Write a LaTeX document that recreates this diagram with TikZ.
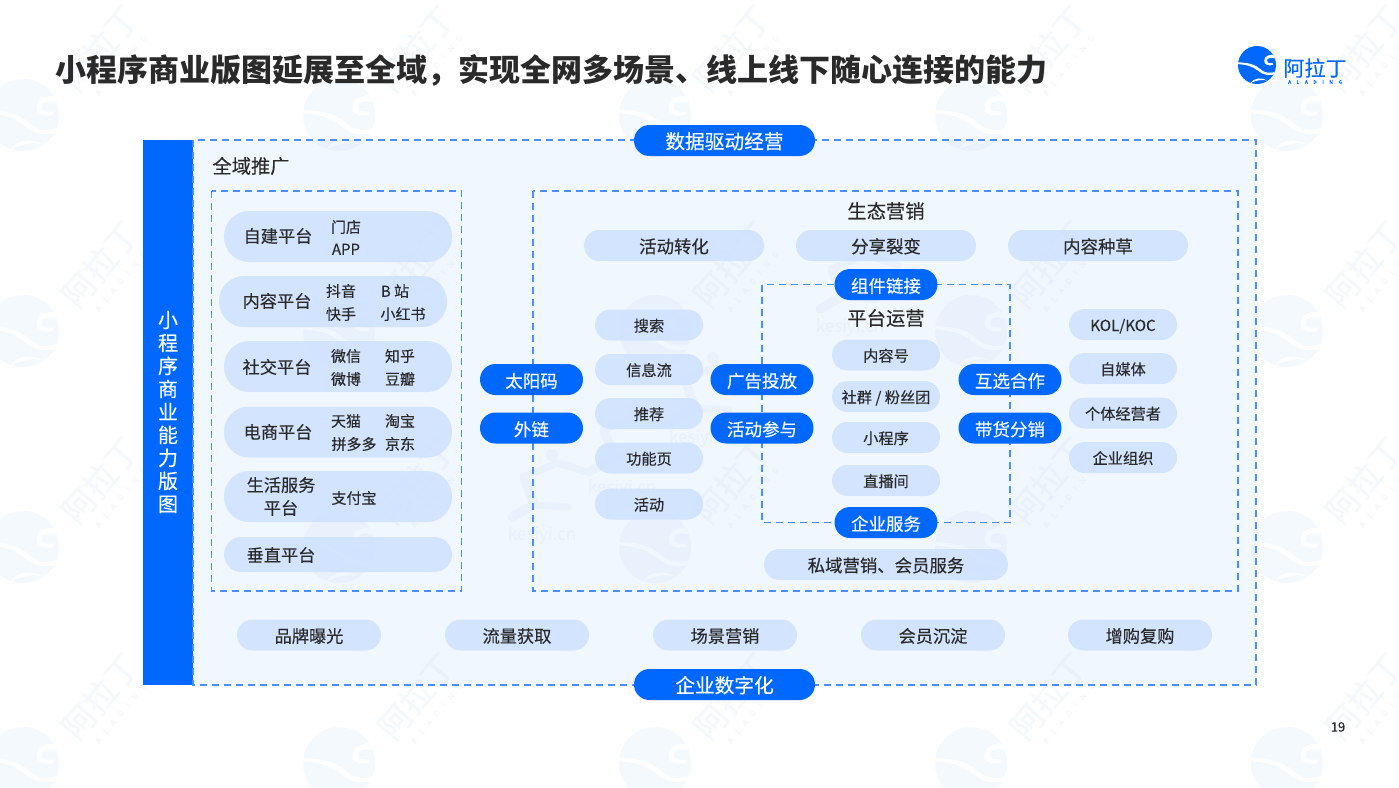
\documentclass[tikz,border=0pt]{standalone}
\usepackage{fontspec}
\setmainfont{Noto Sans CJK SC}[UprightFeatures={FakeBold=0.2}]
\definecolor{brandblue}{HTML}{0068FF}
\definecolor{dashblue}{HTML}{4A8EFF}
\definecolor{chiplight}{HTML}{CFE2FF}
\definecolor{panelbg}{HTML}{F1F7FF}
\definecolor{inktext}{HTML}{2A2A2A}
\definecolor{wmwhite}{HTML}{F4F9FE}
\definecolor{wmpanel}{HTML}{E8F1FC}
\tikzset{
  dashbox/.style={draw=dashblue,line width=1.3pt,dash pattern=on 7pt off 5pt},
  chipblue/.style={fill=brandblue,text=white,rounded corners=15.5pt,minimum width=103pt,minimum height=31pt,inner sep=0pt,text height=16pt,text depth=0pt,font=\fontsize{17.5}{20}\selectfont},
  chipwide/.style={chipblue,minimum width=181pt,text height=16.5pt,font=\fontsize{19.7}{24}\selectfont},
  chiplite/.style={fill=chiplight,fill opacity=.9,text opacity=1,text=inktext,rounded corners=15.5pt,minimum width=108pt,minimum height=31pt,inner sep=0pt,text height=13pt,text depth=0pt,font=\fontsize{15.2}{18}\selectfont},
  chipbar/.style={chiplite,minimum width=180pt,text height=15pt,font=\fontsize{17.4}{20}\selectfont},
  chipfoot/.style={chiplite,minimum width=144pt,text height=15pt,font=\fontsize{17.2}{20}\selectfont},
  chiprow/.style={fill=chiplight,fill opacity=.9,rounded corners=25pt,minimum width=228pt,minimum height=51pt,inner sep=0pt},
  mainlab/.style={text=inktext,inner sep=0pt,align=center,font=\fontsize{17.2}{23}\selectfont},
  sublab/.style={text=inktext,inner sep=0pt,text height=13pt,text depth=1.5pt,font=\fontsize{15}{18}\selectfont},
  headlab/.style={text=inktext,inner sep=0pt,font=\fontsize{19.3}{23}\selectfont},
}
% logo: circulo con curvas
\newcommand{\logomark}[5]{%
  \begin{scope}[shift={(#1,#2)},scale=#3]
    \fill[#4] (0,0) circle (1);
    \begin{scope}
      \clip (0,0) circle (1);
      \fill[#5] (-1.05,-.15) .. controls (-.5,-.1) and (-.2,-.1) .. (.15,.2) .. controls (.4,.42) and (.7,.5) .. (1.05,.3) -- (1.05,.42) .. controls (.7,.62) and (.35,.55) .. (.05,.3) .. controls (-.25,.05) and (-.6,-.02) .. (-1.05,-.05) -- cycle;
      \fill[#5] (1.05,-.5) .. controls (.7,-.6) and (.38,-.5) .. (.38,-.22) .. controls (.38,0) and (.6,.05) .. (.85,0) -- (.82,-.1) .. controls (.65,-.08) and (.52,-.1) .. (.52,-.22) .. controls (.52,-.38) and (.72,-.42) .. (1.05,-.32) -- cycle;
      \fill[#5] (-.35,.95) .. controls (-.1,.65) and (.25,.65) .. (.55,.82) .. controls (.25,.75) and (0,.8) .. (-.35,.95) -- cycle;
    \end{scope}
  \end{scope}}
% marcas de agua
\newcommand{\wmarks}[2]{%
  \foreach \cx in {23,339,655,971,1287} {
    \foreach \cy in {115,331,547,763} {
      \logomark{\cx}{\cy}{36}{#1}{#2}
    }
  }
  \foreach \tx in {100,416,732,1048,1364} {
    \foreach \ty in {48,264,480,696} {
      \begin{scope}[shift={(\tx,\ty)},rotate=50]
        \node[text=#1,transform shape,font=\fontsize{33}{36}\selectfont] (wmname) at (0,0) {阿拉丁};
        \node[text=#1,transform shape,font=\fontsize{8}{9}\selectfont] (wmsub) at (0,27) {A\hspace{7pt}L\hspace{7pt}A\hspace{7pt}D\hspace{7pt}I\hspace{7pt}N\hspace{7pt}G};
      \end{scope}
    }
  }}
\newcommand{\athlete}[2]{%
  \begin{scope}[shift={(#1,#2)}]
    \draw[wmpanel,line width=9pt,line cap=round,line join=round] (-18,-58) -- (-8,-30) -- (-30,-18);
    \draw[wmpanel,line width=7pt,line cap=round,line join=round] (-8,-30) -- (26,-28);
    \draw[wmpanel,line width=7pt,line cap=round,line join=round] (-18,-58) -- (15,-72) -- (48,-62);
    \fill[wmpanel] (10,-80) circle (6);
    \node[text=wmpanel,font=\fontsize{17}{20}\selectfont] (kesi) at (0,0) {kesiyi.cn};
  \end{scope}}
\begin{document}
\begin{tikzpicture}[x=1pt,y=-1pt]
  \useasboundingbox (0,0) rectangle (1399,787);
  \fill[white] (0,0) rectangle (1399,787);

  % Fondo con marcas de agua
  \wmarks{wmwhite}{white}

  % Panel y barra
  \fill[panelbg] (193,140) rectangle (1256,685);
  \begin{scope}
    \clip (193,140) rectangle (1256,685);
    \wmarks{wmpanel}{panelbg}
    \athlete{542}{535}
    \athlete{622}{488}
    \athlete{703}{438}
    \athlete{850}{327}
  \end{scope}
  \fill[brandblue] (143,140) rectangle (193,685);
  \draw[dashbox] (193,140) rectangle (1256,685);
  \node[text=white,align=center,inner sep=0pt,font=\fontsize{20}{23}\selectfont] (barlab) at (168,412) {小\\程\\序\\商\\业\\能\\力\\版\\图};

  % Titulo y logo
  \node[anchor=west,text=inktext,inner sep=0pt,font=\fontsize{31}{36}\selectfont\bfseries] (title) at (55,70) {小程序商业版图延展至全域，实现全网多场景、线上线下随心连接的能力};
  \logomark{1257}{65}{19}{brandblue}{white}
  \node[text=brandblue,inner sep=0pt,font=\fontsize{21}{24}\selectfont] (logoname) at (1315,68) {阿拉丁};
  \node[text=brandblue,inner sep=0pt,font=\fontsize{5}{6}\selectfont] (logosub) at (1315,82) {A\hspace{5.5pt}L\hspace{5.5pt}A\hspace{5.5pt}D\hspace{5.5pt}I\hspace{5.5pt}N\hspace{5.5pt}G};
  \node[text=inktext,inner sep=0pt,font=\fontsize{13}{16}\selectfont] (pagenum) at (1338,727) {19};

  % Cajas discontinuas
  \draw[dashbox] (211.5,191) rectangle (461.5,591);
  \draw[dashbox] (533,191) rectangle (1238,591);
  \draw[dashbox] (762,284.5) rectangle (1010,522.5);

  % Chips grandes
  \node[chipwide] (datadrive) at (724.5,140.5) {数据驱动经营};
  \node[chipwide] (digital) at (724.5,684.5) {企业数字化};
  \node[headlab] (allarea) at (251,166) {全域推广};

  % Plataformas
  \node[chiprow] (rowself) at (338,236.5) {};
  \node[chiprow] (rowcontent) at (333,301.5) {};
  \node[chiprow] (rowsocial) at (338,366.5) {};
  \node[chiprow] (rowshop) at (338,432) {};
  \node[chiprow] (rowlife) at (338,496.5) {};
  \node[chiprow,minimum height=35pt,rounded corners=17.5pt] (rowvert) at (338,554.5) {};
  \node[mainlab] (labself) at (278,236) {自建平台};
  \node[mainlab] (labcontent) at (277,301) {内容平台};
  \node[mainlab] (labsocial) at (277,367) {社交平台};
  \node[mainlab] (labshop) at (278,432) {电商平台};
  \node[mainlab] (lablife) at (281,496.5) {生活服务\\平台};
  \node[mainlab] (labvert) at (281,555) {垂直平台};
  \node[sublab] (store) at (346,227) {门店};
  \node[sublab] (app) at (346,249) {APP};
  \node[sublab] (douyin) at (341,291) {抖音};
  \node[sublab] (bili) at (395,291) {B 站};
  \node[sublab] (kuaishou) at (341,314) {快手};
  \node[sublab] (redbook) at (403,314) {小红书};
  \node[sublab] (wechat) at (346,356) {微信};
  \node[sublab] (zhihu) at (400,356) {知乎};
  \node[sublab] (weibo) at (346,379) {微博};
  \node[sublab] (douban) at (400,379) {豆瓣};
  \node[sublab] (tmall) at (346,421) {天猫};
  \node[sublab] (taobao) at (400,421) {淘宝};
  \node[sublab] (pdd) at (354,444) {拼多多};
  \node[sublab] (jd) at (400,444) {京东};
  \node[sublab] (alipay) at (354,498) {支付宝};

  % Enlaces azules
  \node[chipblue] (suncode) at (531.5,379.5) {太阳码};
  \node[chipblue] (outlink) at (531.5,428) {外链};
  \node[chipblue] (adput) at (762,379.5) {广告投放};
  \node[chipblue] (join) at (762,428) {活动参与};
  \node[chipblue] (mutual) at (1010,379.5) {互选合作};
  \node[chipblue] (sell) at (1010,428) {带货分销};
  \node[chipblue] (widget) at (886,284.5) {组件链接};
  \node[chipblue] (bizserv) at (886,522.5) {企业服务};

  % Ecosistema
  \node[headlab] (eco) at (886,211) {生态营销};
  \node[chipbar] (promo) at (674,245.5) {活动转化};
  \node[chipbar] (fission) at (886,245.5) {分享裂变};
  \node[chipbar] (seed) at (1098,245.5) {内容种草};
  \node[headlab] (platops) at (886,318) {平台运营};
  \node[chiplite] (official) at (886,355) {内容号};
  \node[chiplite] (fans) at (886,396.5) {社群 / 粉丝团};
  \node[chiplite] (miniapp) at (886,437.5) {小程序};
  \node[chiplite] (liveroom) at (886,480.5) {直播间};
  \node[chiplite] (search) at (649,325) {搜索};
  \node[chiplite] (feed) at (649,369.5) {信息流};
  \node[chiplite] (recom) at (649,413.5) {推荐};
  \node[chiplite] (funcpage) at (649,458) {功能页};
  \node[chiplite] (activity) at (649,504) {活动};
  \node[chiplite] (kol) at (1123,324.5) {KOL/KOC};
  \node[chiplite] (selfmedia) at (1123,368.5) {自媒体};
  \node[chiplite] (indiv) at (1123,413) {个体经营者};
  \node[chiplite] (bizorg) at (1123,457.5) {企业组织};
  \node[chipbar,minimum width=244pt] (private) at (886,564.5) {私域营销、会员服务};

  % Fila inferior
  \node[chipfoot] (brand) at (309,635) {品牌曝光};
  \node[chipfoot] (traffic) at (517,635) {流量获取};
  \node[chipfoot] (scene) at (725,635) {场景营销};
  \node[chipfoot] (member) at (933,635) {会员沉淀};
  \node[chipfoot] (rebuy) at (1140,635) {增购复购};
\end{tikzpicture}
\end{document}
